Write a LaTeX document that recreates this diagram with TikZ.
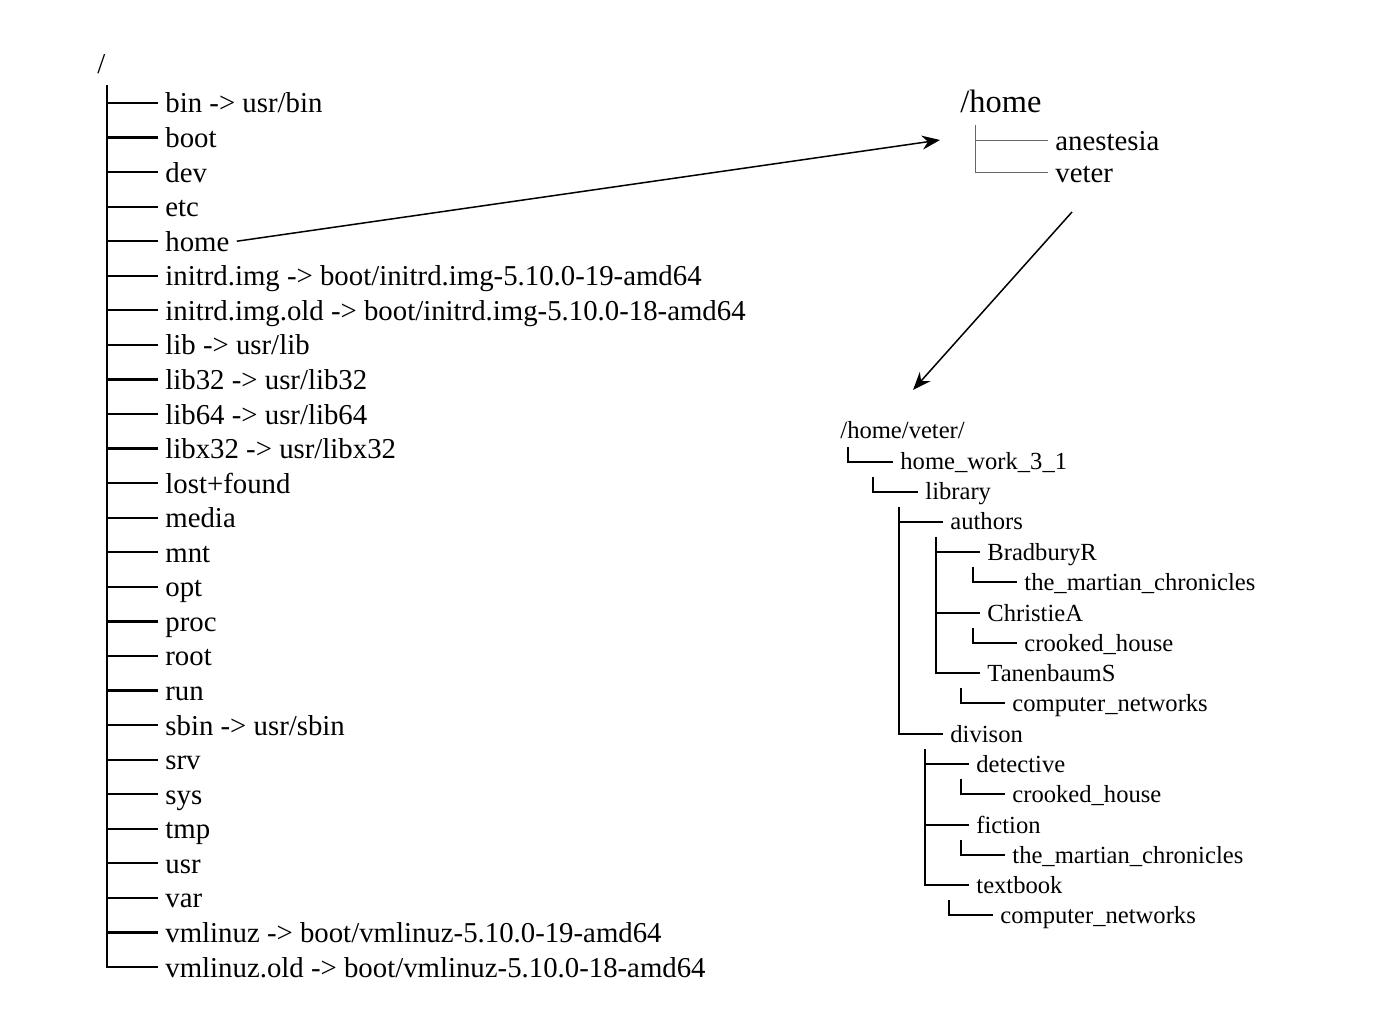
\documentclass[tikz,border=0pt]{standalone}
\usepackage{fontspec}
\setmainfont{Liberation Serif}
\usetikzlibrary{arrows.meta, positioning}
\tikzset{entry/.style = {anchor=west,
			inner xsep=3.5pt, inner ysep=0pt,
			text height=10pt, text depth=0pt,
			font=\fontsize{14.4}{17}\selectfont},
	leaf/.style = {entry},
	small/.style = {entry, text height=8pt,
			font=\fontsize{12.3}{15}\selectfont},
	trunk/.style = {line width=1.1pt},
	twig/.style = {line width=0.5pt, black!60},
	branch/.style = {line width=1pt},
	jump/.style = {line width=0.75pt, -{Stealth[length=9pt, width=7pt]}}}

\begin{document}
\begin{tikzpicture}[x=0.5pt, y=-0.5pt]
	\useasboundingbox (0,0) rectangle (1400,1020);
	% root directory
	\node [anchor=base west, inner sep=0pt, font=\fontsize{14.4}{17}\selectfont] (root) at (97,74) {/};
	\coordinate (t0) at (107,85);
	\foreach \txt [count=\i] in {bin -> usr/bin, boot, dev, etc, home,
		initrd.img -> boot/initrd.img-5.10.0-19-amd64,
		initrd.img.old -> boot/initrd.img-5.10.0-18-amd64,
		lib -> usr/lib, lib32 -> usr/lib32, lib64 -> usr/lib64,
		libx32 -> usr/libx32, lost+found, media, mnt, opt, proc, root,
		run, sbin -> usr/sbin, srv, sys, tmp, usr, var,
		vmlinuz -> boot/vmlinuz-5.10.0-19-amd64,
		vmlinuz.old -> boot/vmlinuz-5.10.0-18-amd64}
	{
		\node [entry] (r\i) at (158,{103+(\i-1)*34.56}) {\txt};
		\draw [trunk] (t0 |- r\i.west) -- (r\i.west);
	}
	\draw [trunk] (t0) |- (r26.west);

	% /home
	\node [anchor=base west, inner sep=0pt, font=\fontsize{16.2}{19}\selectfont] (h0) at (960,113) {/home};
	\node [leaf] (h1) at (1048,141) {anestesia};
	\node [leaf] (h2) at (1048,173) {veter};
	\coordinate (h) at (975,125);
	\draw [twig] (h |- h1.west) -- (h1.west);
	\draw [twig] (h) |- (h2.west);

	% /home/veter/
	\node [small] (v0) at (833,431) {/home/veter/};
	\node [small] (v1) at (893,462) {home\_work\_3\_1};
	\node [small] (v2) at (918,492) {library};
	\node [small] (v3) at (943,522) {authors};
	\node [small] (v4) at (980,552) {BradburyR};
	\node [small] (v5) at (1017,582) {the\_martian\_chronicles};
	\node [small] (v6) at (980,613) {ChristieA};
	\node [small] (v7) at (1017,643) {crooked\_house};
	\node [small] (v8) at (980,673) {TanenbaumS};
	\node [small] (v9) at (1005,703) {computer\_networks};
	\node [small] (v10) at (943,734) {divison};
	\node [small] (v11) at (969,764) {detective};
	\node [small] (v12) at (1005,794) {crooked\_house};
	\node [small] (v13) at (969,825) {fiction};
	\node [small] (v14) at (1005,855) {the\_martian\_chronicles};
	\node [small] (v15) at (969,885) {textbook};
	\node [small] (v16) at (993,915) {computer\_networks};

	\coordinate (k1) at (848,447);
	\coordinate (k2) at (873,477);
	\coordinate (k3) at (899,507);
	\coordinate (k4) at (936,537);
	\coordinate (k5) at (973,567);
	\coordinate (k7) at (973,628);
	\coordinate (k9) at (961,688);
	\coordinate (k11) at (925,749);
	\coordinate (k12) at (961,779);
	\coordinate (k14) at (961,840);
	\coordinate (k16) at (949,900);

	\draw [branch] (k1) |- (v1.west);
	\draw [branch] (k2) |- (v2.west);
	\draw [branch] (k3 |- v3.west) -- (v3.west);
	\draw [branch] (k3) |- (v10.west);
	\draw [branch] (k4 |- v4.west) -- (v4.west);
	\draw [branch] (k4 |- v6.west) -- (v6.west);
	\draw [branch] (k4) |- (v8.west);
	\draw [branch] (k5) |- (v5.west);
	\draw [branch] (k7) |- (v7.west);
	\draw [branch] (k9) |- (v9.west);
	\draw [branch] (k11 |- v11.west) -- (v11.west);
	\draw [branch] (k11 |- v13.west) -- (v13.west);
	\draw [branch] (k11) |- (v15.west);
	\draw [branch] (k12) |- (v12.west);
	\draw [branch] (k14) |- (v14.west);
	\draw [branch] (k16) |- (v16.west);

	% links
	\coordinate (homein) at (940,140);
	\coordinate (veterout) at (1072,212);
	\coordinate (veterin) at (913,390);
	\draw [jump] (r5.east) -- (homein);
	\draw [jump] (veterout) -- (veterin);
\end{tikzpicture}
\end{document}
